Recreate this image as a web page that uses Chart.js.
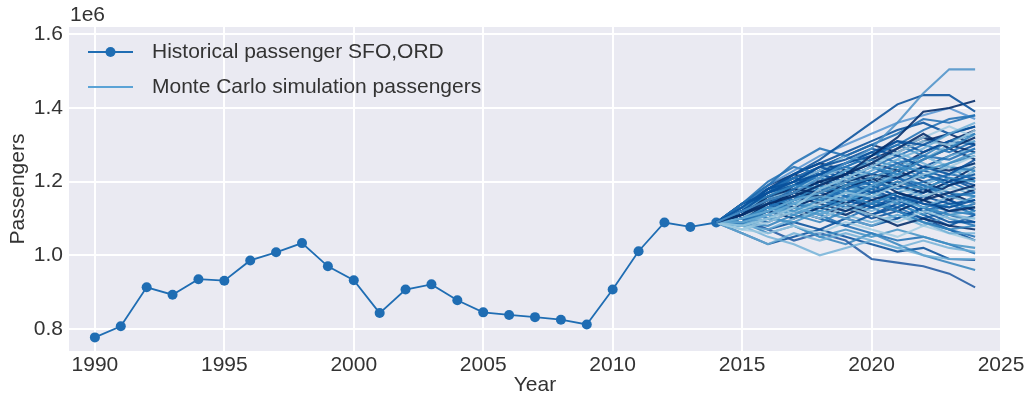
<!DOCTYPE html>
<html>
<head>
<meta charset="utf-8">
<title>Passengers SFO,ORD</title>
<script src="https://cdn.jsdelivr.net/npm/chart.js@4.4.1/dist/chart.umd.min.js"></script>
<style>
  html, body { margin: 0; padding: 0; background: #ffffff; }
  canvas { display: block; }
</style>
</head>
<body>
<canvas id="chart" width="1030" height="404"></canvas>
<script>
// Historical yearly passengers (in units of 1e6)
const years = [1990, 1991, 1992, 1993, 1994, 1995, 1996, 1997, 1998, 1999,
               2000, 2001, 2002, 2003, 2004, 2005, 2006, 2007, 2008, 2009,
               2010, 2011, 2012, 2013, 2014];
const passengers = [0.777, 0.807, 0.913, 0.893, 0.935, 0.931, 0.986, 1.008, 1.033, 0.970,
                    0.932, 0.843, 0.907, 0.921, 0.878, 0.845, 0.838, 0.832, 0.825, 0.812,
                    0.907, 1.011, 1.089, 1.077, 1.089];

// Simulated years; every path starts from the last historical value (2014)
const simYears = [2014, 2015, 2016, 2017, 2018, 2019, 2020, 2021, 2022, 2023, 2024];

// Monte Carlo paths, values for 2015..2024 (units of 1e6)
const simulatedPaths = [
  [1.12, 1.15, 1.17, 1.21, 1.25, 1.29, 1.36, 1.44, 1.505, 1.505],
  [1.13, 1.18, 1.22, 1.26, 1.31, 1.36, 1.41, 1.435, 1.435, 1.39],
  [1.11, 1.14, 1.16, 1.19, 1.22, 1.27, 1.32, 1.39, 1.40, 1.42],
  [1.14, 1.19, 1.25, 1.29, 1.27, 1.30, 1.33, 1.37, 1.36, 1.38],
  [1.10, 1.12, 1.15, 1.17, 1.20, 1.23, 1.26, 1.29, 1.33, 1.36],
  [1.12, 1.17, 1.20, 1.22, 1.25, 1.27, 1.31, 1.30, 1.33, 1.35],
  [1.08, 1.10, 1.13, 1.18, 1.21, 1.24, 1.28, 1.31, 1.30, 1.34],
  [1.13, 1.16, 1.19, 1.18, 1.21, 1.24, 1.22, 1.26, 1.29, 1.33],
  [1.11, 1.15, 1.17, 1.20, 1.22, 1.25, 1.29, 1.33, 1.29, 1.32],
  [1.09, 1.11, 1.14, 1.16, 1.15, 1.19, 1.22, 1.26, 1.30, 1.31],
  [1.12, 1.14, 1.18, 1.22, 1.24, 1.22, 1.25, 1.27, 1.26, 1.29],
  [1.10, 1.13, 1.12, 1.15, 1.19, 1.21, 1.24, 1.23, 1.25, 1.28],
  [1.14, 1.17, 1.20, 1.24, 1.26, 1.29, 1.27, 1.24, 1.22, 1.26],
  [1.07, 1.09, 1.12, 1.14, 1.17, 1.16, 1.19, 1.22, 1.24, 1.27],
  [1.11, 1.16, 1.18, 1.17, 1.20, 1.22, 1.21, 1.24, 1.23, 1.25],
  [1.10, 1.12, 1.15, 1.19, 1.17, 1.18, 1.22, 1.21, 1.24, 1.23],
  [1.13, 1.15, 1.17, 1.19, 1.23, 1.25, 1.28, 1.25, 1.22, 1.24],
  [1.09, 1.13, 1.16, 1.15, 1.18, 1.20, 1.18, 1.20, 1.22, 1.21],
  [1.12, 1.17, 1.19, 1.22, 1.20, 1.17, 1.19, 1.22, 1.20, 1.22],
  [1.08, 1.10, 1.09, 1.12, 1.15, 1.17, 1.20, 1.18, 1.21, 1.20],
  [1.11, 1.14, 1.17, 1.16, 1.19, 1.21, 1.17, 1.15, 1.17, 1.19],
  [1.10, 1.15, 1.18, 1.21, 1.24, 1.21, 1.18, 1.16, 1.18, 1.18],
  [1.13, 1.16, 1.15, 1.18, 1.16, 1.19, 1.21, 1.19, 1.16, 1.17],
  [1.09, 1.12, 1.14, 1.13, 1.16, 1.14, 1.17, 1.19, 1.17, 1.16],
  [1.12, 1.18, 1.20, 1.24, 1.22, 1.19, 1.16, 1.14, 1.13, 1.15],
  [1.08, 1.11, 1.13, 1.11, 1.14, 1.12, 1.15, 1.13, 1.16, 1.14],
  [1.10, 1.14, 1.16, 1.14, 1.12, 1.15, 1.17, 1.15, 1.12, 1.13],
  [1.11, 1.13, 1.11, 1.14, 1.17, 1.19, 1.16, 1.13, 1.11, 1.12],
  [1.13, 1.17, 1.21, 1.19, 1.16, 1.14, 1.17, 1.14, 1.12, 1.11],
  [1.07, 1.10, 1.12, 1.10, 1.13, 1.11, 1.09, 1.12, 1.10, 1.10],
  [1.10, 1.12, 1.15, 1.17, 1.15, 1.13, 1.15, 1.12, 1.09, 1.09],
  [1.09, 1.08, 1.11, 1.09, 1.12, 1.14, 1.12, 1.09, 1.07, 1.08],
  [1.12, 1.15, 1.13, 1.16, 1.14, 1.11, 1.08, 1.10, 1.08, 1.07],
  [1.08, 1.07, 1.10, 1.12, 1.10, 1.08, 1.11, 1.09, 1.06, 1.06],
  [1.11, 1.16, 1.19, 1.21, 1.18, 1.15, 1.12, 1.09, 1.07, 1.05],
  [1.07, 1.06, 1.08, 1.06, 1.09, 1.07, 1.05, 1.08, 1.06, 1.04],
  [1.09, 1.11, 1.08, 1.05, 1.07, 1.05, 1.07, 1.05, 1.03, 1.02],
  [1.06, 1.03, 1.06, 1.04, 1.06, 1.04, 1.02, 1.04, 1.02, 1.01],
  [1.08, 1.05, 1.03, 1.00, 1.02, 1.04, 1.02, 1.00, 0.99, 0.99],
  [1.10, 1.07, 1.04, 1.06, 1.04, 0.99, 0.98, 0.97, 0.95, 0.913],
  [1.09, 1.06, 1.08, 1.05, 1.03, 1.06, 1.03, 1.00, 0.98, 0.96],
  [1.06, 1.03, 1.05, 1.07, 1.05, 1.03, 1.01, 1.02, 0.99, 0.987],
  [1.12, 1.10, 1.13, 1.11, 1.08, 1.06, 1.04, 1.05, 1.03, 1.005],
  [1.13, 1.19, 1.23, 1.27, 1.30, 1.33, 1.36, 1.38, 1.40, 1.37],
  [1.12, 1.16, 1.20, 1.23, 1.27, 1.25, 1.29, 1.32, 1.35, 1.32],
  [1.10, 1.14, 1.19, 1.23, 1.25, 1.28, 1.31, 1.28, 1.31, 1.30],
  [1.11, 1.13, 1.16, 1.19, 1.23, 1.26, 1.24, 1.21, 1.25, 1.27],
  [1.09, 1.12, 1.10, 1.13, 1.11, 1.14, 1.12, 1.15, 1.19, 1.21],
  [1.14, 1.20, 1.24, 1.22, 1.25, 1.28, 1.25, 1.22, 1.19, 1.21],
  [1.10, 1.09, 1.12, 1.10, 1.08, 1.11, 1.13, 1.16, 1.14, 1.15],
  [1.08, 1.12, 1.15, 1.13, 1.11, 1.09, 1.11, 1.08, 1.11, 1.10],
  [1.12, 1.14, 1.17, 1.20, 1.18, 1.21, 1.19, 1.17, 1.20, 1.24],
  [1.11, 1.15, 1.14, 1.17, 1.19, 1.17, 1.14, 1.11, 1.14, 1.13],
  [1.13, 1.18, 1.21, 1.24, 1.27, 1.24, 1.27, 1.30, 1.28, 1.31],
  [1.09, 1.07, 1.09, 1.07, 1.10, 1.08, 1.10, 1.13, 1.11, 1.09],
  [1.12, 1.16, 1.18, 1.21, 1.19, 1.23, 1.26, 1.23, 1.27, 1.29],
  [1.13, 1.17, 1.22, 1.25, 1.28, 1.31, 1.34, 1.36, 1.33, 1.35],
  [1.12, 1.15, 1.19, 1.21, 1.24, 1.27, 1.30, 1.34, 1.37, 1.38],
  [1.14, 1.18, 1.21, 1.19, 1.22, 1.26, 1.29, 1.32, 1.30, 1.28],
  [1.11, 1.16, 1.20, 1.18, 1.21, 1.19, 1.23, 1.27, 1.31, 1.33],
  [1.10, 1.13, 1.17, 1.20, 1.23, 1.21, 1.19, 1.23, 1.21, 1.19],
  [1.12, 1.16, 1.14, 1.17, 1.21, 1.24, 1.22, 1.19, 1.22, 1.25],
  [1.13, 1.15, 1.18, 1.16, 1.14, 1.17, 1.20, 1.18, 1.15, 1.18],
  [1.11, 1.14, 1.13, 1.16, 1.13, 1.16, 1.14, 1.17, 1.20, 1.17],
  [1.09, 1.12, 1.15, 1.18, 1.16, 1.13, 1.16, 1.13, 1.15, 1.12],
  [1.12, 1.15, 1.18, 1.15, 1.17, 1.15, 1.12, 1.15, 1.13, 1.16],
  [1.10, 1.13, 1.16, 1.19, 1.22, 1.25, 1.23, 1.20, 1.17, 1.14],
  [1.13, 1.17, 1.20, 1.23, 1.21, 1.24, 1.21, 1.18, 1.15, 1.12],
  [1.11, 1.14, 1.16, 1.14, 1.17, 1.20, 1.24, 1.27, 1.24, 1.22],
  [1.09, 1.11, 1.14, 1.12, 1.10, 1.13, 1.10, 1.13, 1.10, 1.08],
  [1.12, 1.14, 1.12, 1.10, 1.13, 1.11, 1.14, 1.11, 1.08, 1.11],
  [1.14, 1.19, 1.22, 1.25, 1.23, 1.20, 1.23, 1.26, 1.29, 1.26],
  [1.11, 1.15, 1.18, 1.21, 1.24, 1.27, 1.30, 1.27, 1.24, 1.20],
  [1.10, 1.12, 1.10, 1.13, 1.15, 1.18, 1.15, 1.18, 1.21, 1.18],
  [1.13, 1.16, 1.19, 1.22, 1.19, 1.16, 1.19, 1.16, 1.19, 1.16],
  [1.08, 1.10, 1.13, 1.11, 1.14, 1.17, 1.15, 1.12, 1.14, 1.11],
  [1.12, 1.17, 1.21, 1.24, 1.27, 1.30, 1.28, 1.31, 1.33, 1.30],
  [1.11, 1.13, 1.15, 1.18, 1.20, 1.18, 1.21, 1.24, 1.27, 1.30],
  [1.10, 1.14, 1.17, 1.15, 1.18, 1.21, 1.19, 1.17, 1.19, 1.23],
  [1.12, 1.15, 1.17, 1.15, 1.13, 1.10, 1.12, 1.10, 1.07, 1.04],
  [1.09, 1.13, 1.16, 1.19, 1.17, 1.15, 1.13, 1.10, 1.12, 1.14],
  [1.13, 1.18, 1.22, 1.20, 1.23, 1.20, 1.24, 1.28, 1.31, 1.34]
];

// Axis tick values
const xTicks = [1990, 1995, 2000, 2005, 2010, 2015, 2020, 2025];
const yTicks = [0.8, 1.0, 1.2, 1.4, 1.6];

// Blues shades cycled over the simulated paths
const blues = [
  'rgba(74,144,200,0.85)',  'rgba(8,81,156,0.88)',   'rgba(8,48,107,0.9)',
  'rgba(33,113,181,0.88)',  'rgba(107,174,214,0.8)', 'rgba(8,81,156,0.88)',
  'rgba(158,202,225,0.8)',  'rgba(49,130,189,0.85)', 'rgba(8,48,107,0.9)',
  'rgba(107,174,214,0.8)',  'rgba(33,113,181,0.88)', 'rgba(66,146,198,0.85)',
  'rgba(8,81,156,0.88)',    'rgba(158,202,225,0.8)', 'rgba(8,48,107,0.9)',
  'rgba(49,130,189,0.85)',  'rgba(107,174,214,0.8)', 'rgba(33,113,181,0.88)',
  'rgba(8,81,156,0.88)',    'rgba(66,146,198,0.85)', 'rgba(8,48,107,0.9)',
  'rgba(158,202,225,0.8)',  'rgba(33,113,181,0.88)', 'rgba(49,130,189,0.85)',
  'rgba(8,81,156,0.88)',    'rgba(107,174,214,0.8)', 'rgba(8,48,107,0.9)',
  'rgba(66,146,198,0.85)',  'rgba(33,113,181,0.88)', 'rgba(158,202,225,0.8)',
  'rgba(8,81,156,0.88)',    'rgba(49,130,189,0.85)', 'rgba(8,48,107,0.9)',
  'rgba(107,174,214,0.8)',  'rgba(33,113,181,0.88)', 'rgba(158,202,225,0.8)',
  'rgba(66,146,198,0.85)',  'rgba(107,174,214,0.8)', 'rgba(107,174,214,0.8)',
  'rgba(40,95,165,0.9)',    'rgba(49,130,189,0.85)', 'rgba(8,81,156,0.88)',
  'rgba(33,113,181,0.88)',  'rgba(74,143,208,0.8)',  'rgba(158,202,225,0.8)',
  'rgba(8,81,156,0.88)',    'rgba(49,130,189,0.85)', 'rgba(8,48,107,0.9)',
  'rgba(33,113,181,0.88)',  'rgba(8,81,156,0.88)',   'rgba(107,174,214,0.8)',
  'rgba(8,48,107,0.9)',     'rgba(66,146,198,0.85)', 'rgba(33,113,181,0.88)',
  'rgba(8,81,156,0.88)',    'rgba(107,174,214,0.8)', 'rgba(8,81,156,0.88)',
  'rgba(33,113,181,0.88)',  'rgba(8,48,107,0.9)',    'rgba(49,130,189,0.85)',
  'rgba(8,81,156,0.88)',    'rgba(107,174,214,0.8)', 'rgba(8,48,107,0.9)',
  'rgba(33,113,181,0.88)',  'rgba(8,81,156,0.88)',   'rgba(66,146,198,0.85)',
  'rgba(8,48,107,0.9)',     'rgba(8,81,156,0.88)',   'rgba(158,202,225,0.8)',
  'rgba(33,113,181,0.88)',  'rgba(8,81,156,0.88)',   'rgba(8,48,107,0.9)',
  'rgba(49,130,189,0.85)',  'rgba(8,81,156,0.88)',   'rgba(107,174,214,0.8)',
  'rgba(33,113,181,0.88)',  'rgba(8,48,107,0.9)',    'rgba(8,81,156,0.88)',
  'rgba(66,146,198,0.85)',  'rgba(8,81,156,0.88)',   'rgba(33,113,181,0.88)',
  'rgba(8,48,107,0.9)'
];

const HIST_COLOR = '#1f6db3';
const LEGEND_SIM_COLOR = '#5ba3d6';
const TEXT_COLOR = '#333333';
const FONT = '"Liberation Sans", Arial, Helvetica, sans-serif';

Chart.defaults.font.family = FONT;
Chart.defaults.font.size = 21;
Chart.defaults.color = TEXT_COLOR;

const startValue = passengers[passengers.length - 1];

const simDatasets = simulatedPaths.map((path, i) => ({
  label: 'Monte Carlo simulation passengers',
  data: simYears.map((yr, k) => ({ x: yr, y: k === 0 ? startValue : path[k - 1] })),
  borderColor: blues[i % blues.length],
  borderWidth: 2.1,
  pointRadius: 0,
  tension: 0,
  fill: false,
  order: 0
}));

const histDataset = {
  label: 'Historical passenger SFO,ORD',
  data: years.map((yr, i) => ({ x: yr, y: passengers[i] })),
  borderColor: HIST_COLOR,
  backgroundColor: HIST_COLOR,
  borderWidth: 1.8,
  pointRadius: 5,
  pointBorderWidth: 0,
  pointBackgroundColor: HIST_COLOR,
  tension: 0,
  fill: false,
  order: 1
};

// Plot background, legend inside the plot and the 1e6 offset label
const seabornStyle = {
  id: 'seabornStyle',
  beforeDraw(chart) {
    const { ctx, chartArea: a } = chart;
    ctx.save();
    ctx.fillStyle = '#EAEAF2';
    ctx.fillRect(a.left, a.top, a.right - a.left, a.bottom - a.top);
    ctx.restore();
  },
  afterDraw(chart) {
    const { ctx, chartArea: a } = chart;
    ctx.save();
    ctx.font = '21px ' + FONT;
    ctx.fillStyle = TEXT_COLOR;
    ctx.textBaseline = 'middle';
    ctx.textAlign = 'left';
    // offset label
    ctx.fillText('1e6', a.left + 1, 15);

    // legend row 1: line with marker
    const x0 = a.left + 19, x1 = a.left + 64, tx = a.left + 83;
    const r1 = a.top + 25, r2 = a.top + 60;
    ctx.strokeStyle = HIST_COLOR;
    ctx.lineWidth = 1.8;
    ctx.beginPath(); ctx.moveTo(x0, r1); ctx.lineTo(x1, r1); ctx.stroke();
    ctx.fillStyle = HIST_COLOR;
    ctx.beginPath(); ctx.arc((x0 + x1) / 2, r1, 5, 0, Math.PI * 2); ctx.fill();
    ctx.fillStyle = TEXT_COLOR;
    ctx.fillText(histDataset.label, tx, r1);
    // legend row 2: plain line
    ctx.strokeStyle = LEGEND_SIM_COLOR;
    ctx.beginPath(); ctx.moveTo(x0, r2); ctx.lineTo(x1, r2); ctx.stroke();
    ctx.fillText(simDatasets[0].label, tx, r2);
    ctx.restore();
  }
};

new Chart(document.getElementById('chart'), {
  type: 'line',
  data: { datasets: [histDataset, ...simDatasets] },
  options: {
    responsive: false,
    devicePixelRatio: 1,
    animation: false,
    layout: { padding: { left: 0, right: 29, top: 27, bottom: 0 } },
    plugins: {
      legend: { display: false },
      tooltip: { enabled: false }
    },
    scales: {
      x: {
        type: 'linear',
        min: 1989,
        max: 2025,
        afterFit(scale) { scale.height = 53; },
        afterBuildTicks(scale) { scale.ticks = xTicks.map(v => ({ value: v })); },
        ticks: {
          callback: v => String(v),
          padding: 2,
          maxRotation: 0,
          autoSkip: false,
          color: TEXT_COLOR
        },
        grid: { color: '#ffffff', lineWidth: 2, drawTicks: false },
        border: { display: false },
        title: { display: true, text: 'Year', color: TEXT_COLOR, padding: { top: 0, bottom: 6 } }
      },
      y: {
        type: 'linear',
        min: 0.74,
        max: 1.62,
        afterFit(scale) { scale.width = 69; },
        afterBuildTicks(scale) { scale.ticks = yTicks.map(v => ({ value: v })); },
        ticks: {
          callback: v => v.toFixed(1),
          padding: 6,
          color: TEXT_COLOR
        },
        grid: { color: '#ffffff', lineWidth: 2, drawTicks: false },
        border: { display: false },
        title: { display: true, text: 'Passengers', color: TEXT_COLOR, padding: { top: 6, bottom: 0 } }
      }
    }
  },
  plugins: [seabornStyle]
});
</script>
</body>
</html>
